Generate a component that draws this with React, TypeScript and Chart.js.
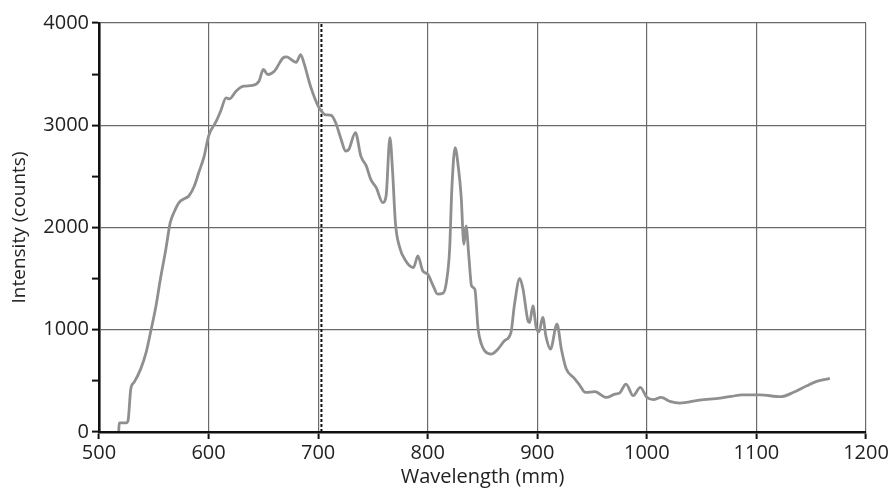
import React, { useEffect, useRef } from "react";
import { Chart, registerables } from "chart.js";

Chart.register(...registerables);

const wavelengths: number[] = [
  518, 518.5, 525, 526.5, 529, 532, 538, 543, 547, 552, 556, 561, 565, 569, 573, 578, 582, 587, 591, 596,
  600, 607, 611, 616, 619, 625, 632, 640, 646, 650, 654, 660, 668, 671, 680, 684, 687, 693, 700, 703,
  706, 712, 716, 721, 725, 728, 734, 739, 744, 748, 753, 759, 762, 765.5, 768, 770.5, 774, 780, 787, 791,
  795.5, 800, 805, 809, 814, 817, 820, 822, 825, 828, 830.5, 833, 835, 837.5, 840, 843, 846, 849, 852, 858,
  864, 870, 876, 879, 884, 887, 891.5, 893, 896, 899, 901.5, 905, 908, 912, 918, 922, 926.5, 933, 938, 944,
  952.5, 963, 971, 975, 981, 987.5, 994, 1000, 1006, 1013, 1021, 1030, 1048, 1067, 1077, 1087, 1103, 1122,
  1134, 1146, 1155, 1167,
];

const intensity: number[] = [
  10, 90, 90, 110, 420, 485, 615, 778, 973, 1233, 1494, 1787, 2048, 2161, 2243, 2282, 2308, 2405, 2536, 2698,
  2894, 3040, 3138, 3268, 3258, 3333, 3382, 3389, 3431, 3545, 3496, 3528, 3659, 3669, 3616, 3691, 3610, 3382, 3187, 3138,
  3105, 3096, 3024, 2861, 2747, 2764, 2927, 2698, 2600, 2471, 2390, 2243, 2308, 2878, 2536, 2048, 1820, 1673, 1608, 1722,
  1575, 1543, 1429, 1348, 1357, 1462, 1787, 2373, 2780, 2585, 2308, 1836, 2015, 1722, 1429, 1396, 1006, 859, 794, 762,
  810, 892, 974, 1233, 1501, 1396, 1087, 1070, 1233, 1022, 980, 1120, 930, 810, 1055, 810, 615, 534, 469, 388,
  394, 339, 371, 380, 469, 355, 437, 339, 316, 339, 300, 283, 312, 332, 348, 364, 364, 345,
  388, 452, 495, 524,
];

const markerX: number[] = [703, 703];
const markerY: number[] = [0, 4000];

const xTickValues: number[] = [500, 600, 700, 800, 900, 1000, 1100, 1200];
const yTickValues: number[] = [0, 1000, 2000, 3000, 4000];

const xTitle = "Wavelength (mm)";
const yTitle = "Intensity (counts)";

export default function App() {
  const canvasRef = useRef<HTMLCanvasElement | null>(null);

  useEffect(() => {
    const canvas = canvasRef.current;
    if (!canvas) return;
    const font = "'Open Sans', 'Noto Sans', sans-serif";
    const chart = new Chart(canvas, {
      type: "line",
      data: {
        datasets: [
          {
            data: wavelengths.map((x, i) => ({ x, y: intensity[i] })),
            borderColor: "#8f8f8f",
            borderWidth: 2.8,
            pointRadius: 0,
            cubicInterpolationMode: "monotone",
            fill: false,
          },
          {
            data: markerX.map((x, i) => ({ x, y: markerY[i] })),
            borderColor: "#111111",
            borderWidth: 2,
            borderDash: [3, 2],
            pointRadius: 0,
            fill: false,
          },
        ],
      },
      options: {
        animation: false,
        responsive: false,
        maintainAspectRatio: false,
        layout: { padding: { top: 23, right: 24, left: 0, bottom: 0 } },
        plugins: { legend: { display: false }, tooltip: { enabled: false } },
        scales: {
          x: {
            type: "linear",
            min: 500,
            max: 1200,
            afterBuildTicks: (scale: any) => {
              scale.ticks = xTickValues.map((v) => ({ value: v }));
            },
            afterFit: (scale: any) => {
              scale.height = 63;
              scale.paddingLeft = 0;
              scale.paddingRight = 0;
            },
            ticks: {
              color: "#222",
              font: { family: font, size: 20 },
              padding: 2,
              maxRotation: 0,
              autoSkip: false,
              callback: (v: any) => String(v),
            },
            grid: {
              color: "#6a6a6a",
              lineWidth: 1.2,
              tickLength: 7,
              tickColor: "#111",
              tickWidth: 2,
            },
            border: { color: "#111", width: 2.6 },
            title: {
              display: true,
              text: xTitle,
              color: "#222",
              font: { family: font, size: 20 },
              padding: { top: 0, bottom: 6 },
            },
          },
          y: {
            type: "linear",
            min: 0,
            max: 4000,
            afterBuildTicks: (scale: any) => {
              const t: any[] = [];
              for (let v = 0; v <= 4000; v += 500) t.push({ value: v });
              scale.ticks = t;
            },
            afterFit: (scale: any) => {
              scale.width = 99;
              scale.paddingTop = 0;
              scale.paddingBottom = 0;
            },
            ticks: {
              color: "#222",
              font: { family: font, size: 20 },
              padding: 3,
              autoSkip: false,
              callback: (v: any) => (yTickValues.includes(Number(v)) ? String(v) : ""),
            },
            grid: {
              color: (ctx: any) => (ctx.tick && ctx.tick.value % 1000 === 0 ? "#6a6a6a" : "rgba(0,0,0,0)"),
              lineWidth: 1.2,
              tickLength: 7,
              tickColor: "#111",
              tickWidth: 2,
            },
            border: { color: "#111", width: 2.6 },
            title: {
              display: true,
              text: yTitle,
              color: "#222",
              font: { family: font, size: 19 },
              padding: { top: 8, bottom: 0 },
            },
          },
        },
      },
    } as any);
    return () => chart.destroy();
  }, []);

  return (
    <div style={{ position: "fixed", left: 0, top: 0, width: 890, height: 495, background: "#fff" }}>
      <canvas ref={canvasRef} width={890} height={495} style={{ width: 890, height: 495, display: "block" }} />
    </div>
  );
}
